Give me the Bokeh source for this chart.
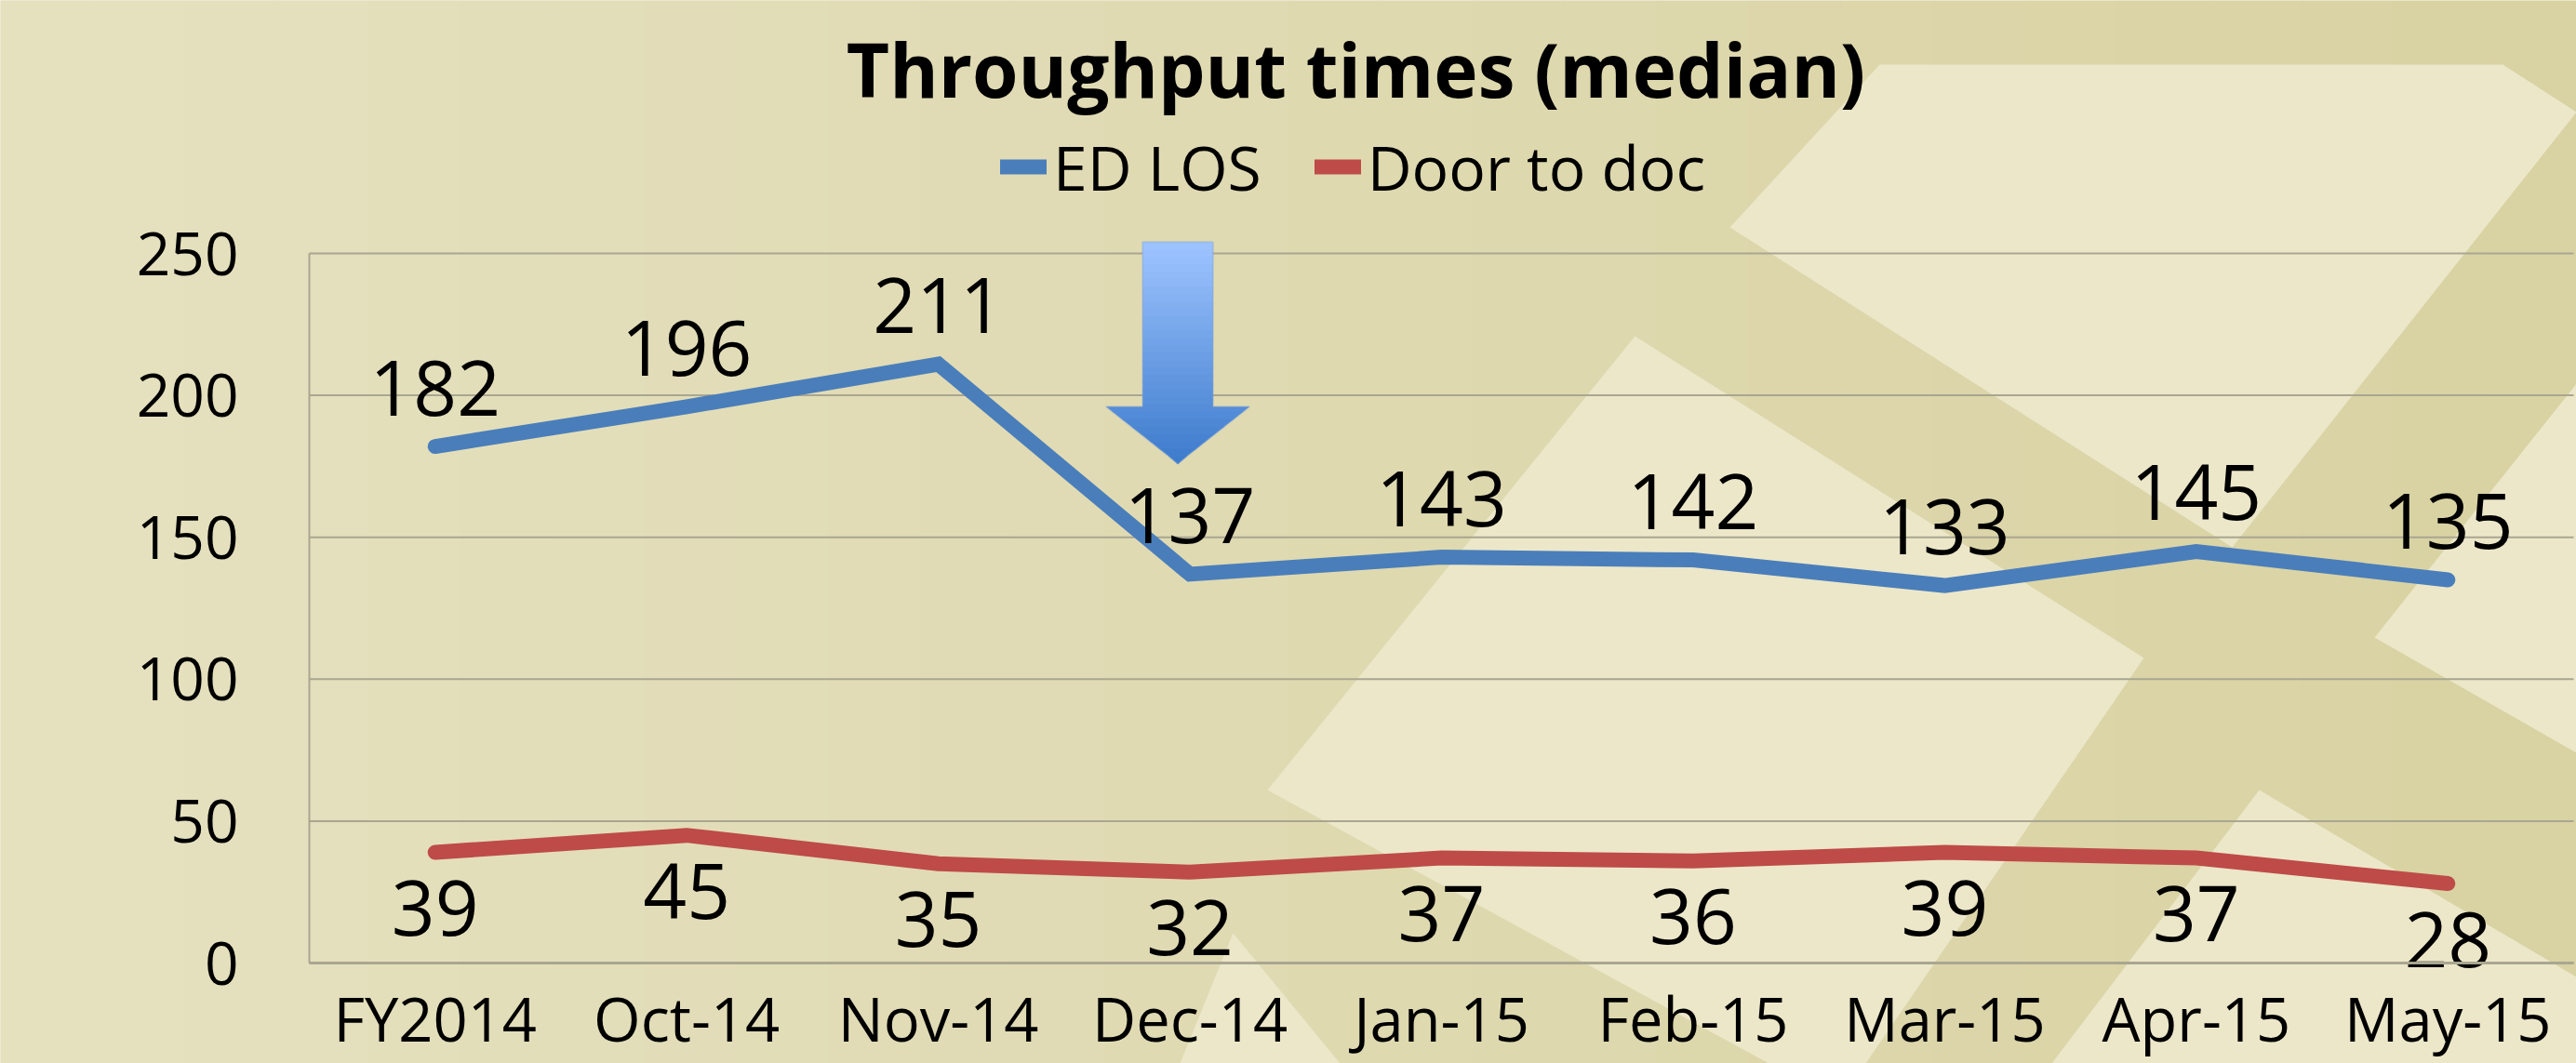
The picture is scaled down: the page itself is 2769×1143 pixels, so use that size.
from bokeh.plotting import figure
from bokeh.models import (Range1d, FixedTicker, PolyAnnotation, Label, Legend, LegendItem)
from bokeh.core.properties import value
from bokeh.embed import file_html
from bokeh.resources import INLINE

# ---------------- data ----------------
categories = ["FY2014", "Oct-14", "Nov-14", "Dec-14", "Jan-15",
              "Feb-15", "Mar-15", "Apr-15", "May-15"]
ed_los = [182, 196, 211, 137, 143, 142, 133, 145, 135]
door_to_doc = [39, 45, 35, 32, 37, 36, 39, 37, 28]
y_ticks = [0, 50, 100, 150, 200, 250]
series_names = ["ED LOS", "Door to doc"]
title_text = "Throughput times (median)"

# ---------------- layout ----------------
W, H = 2769, 1143
PX_LEFT, PX_RIGHT = 332, 2766      # plot area in canvas px
PX_Y0, PX_Y250 = 1035, 272
FONT = "Open Sans"
BLUE, RED = "#4a7ebb", "#be4b48"
GRID = "#a9a691"

ncat = len(categories)
cat_w = (PX_RIGHT - PX_LEFT) / ncat
ppu = (PX_Y0 - PX_Y250) / (y_ticks[-1] - y_ticks[0])
x_range = Range1d(-PX_LEFT / cat_w, ncat + (W - PX_RIGHT) / cat_w)
y_range = Range1d(-(H - PX_Y0) / ppu, y_ticks[-1] + PX_Y250 / ppu)
xpos = [i + 0.5 for i in range(ncat)]

p = figure(width=W, height=H, x_range=x_range, y_range=y_range, title=None,
           output_backend="svg", toolbar_location=None,
           min_border=0, min_border_left=0, min_border_right=0,
           min_border_top=0, min_border_bottom=0,
           outline_line_color=None, border_fill_color="#dfd9b0",
           background_fill_color="#dfd9b0")


def mix(c1, c2, t):
    return "#%02x%02x%02x" % tuple(int(round(a + (b - a) * t)) for a, b in zip(c1, c2))


# background gradient (decoration, canvas px)
N = 28
for i in range(N):
    x0 = W * i / N
    x1 = W * (i + 1) / N + 1
    p.add_layout(PolyAnnotation(xs=[x0, x1, x1, x0], ys=[0, 0, H, H],
                                xs_units="canvas", ys_units="canvas",
                                fill_color=mix((0xe5, 0xe1, 0xbf), (0xd9, 0xd2, 0xa3), i / (N - 1)),
                                fill_alpha=1, line_alpha=0, level="image"))

# light decorative shapes (canvas px)
light_shapes = [
    [(2020, 69), (2690, 69), (2769, 120), (2399, 588), (1859, 244)],
    [(1757, 361), (2304, 707), (2005, 1143), (1901, 1143), (1362, 849)],
    [(2428, 849), (2769, 1050), (2769, 1143), (2205, 1143)],
    [(2552, 685), (2769, 412), (2769, 809)],
    [(1268, 1143), (1325, 1003), (1440, 1143)],
]
for shp in light_shapes:
    p.add_layout(PolyAnnotation(xs=[a for a, b in shp], ys=[b for a, b in shp],
                                xs_units="canvas", ys_units="canvas",
                                fill_color="#ece7c9", fill_alpha=1, line_alpha=0,
                                level="image"))

# ---------------- grid / axes ----------------
p.xgrid.grid_line_color = None
p.ygrid.grid_line_color = None
p.segment(x0=[0] * len(y_ticks), x1=[ncat] * len(y_ticks), y0=y_ticks, y1=y_ticks,
          line_color=GRID, line_width=2, level="underlay")

p.yaxis.fixed_location = 0
p.yaxis.bounds = (y_ticks[0], y_ticks[-1])
p.yaxis.ticker = FixedTicker(ticks=y_ticks)
p.yaxis.axis_line_color = GRID
p.yaxis.axis_line_width = 2
p.yaxis.major_tick_line_color = None
p.yaxis.minor_tick_line_color = None
p.yaxis.major_label_standoff = 70
p.yaxis.major_label_text_font = FONT
p.yaxis.major_label_text_font_size = "64px"
p.yaxis.major_label_text_color = "black"

p.xaxis.fixed_location = 0
p.xaxis.bounds = (0, ncat)
p.xaxis.ticker = FixedTicker(ticks=xpos)
p.xaxis.major_label_overrides = {x: c for x, c in zip(xpos, categories)}
p.xaxis.axis_line_color = GRID
p.xaxis.axis_line_width = 3
p.xaxis.major_tick_line_color = None
p.xaxis.minor_tick_line_color = None
p.xaxis.major_label_standoff = 9
p.xaxis.major_label_text_font = FONT
p.xaxis.major_label_text_font_size = "65px"
p.xaxis.major_label_text_color = "black"

# ---------------- arrow annotation (gradient) ----------------
cx = categories.index("Dec-14") + 0.5 - 0.048
a_top, a_mid, a_tip = 254, 196, 176
shaft_h, head_h = 0.14, 0.285


def half(y):
    if y >= a_mid:
        return shaft_h
    return head_h * max(y - a_tip, 0) / (a_mid - a_tip)


NS = 30
for k in range(NS):
    y1 = a_top - (a_top - a_tip) * k / NS
    y0 = a_top - (a_top - a_tip) * (k + 1) / NS - 0.3
    if y0 < a_mid < y1:
        xs = [cx - shaft_h, cx + shaft_h, cx + shaft_h, cx + head_h, cx + half(y0),
              cx - half(y0), cx - head_h, cx - shaft_h]
        ys = [y1, y1, a_mid, a_mid, y0, y0, a_mid, a_mid]
    else:
        xs = [cx - half(y1), cx + half(y1), cx + half(y0), cx - half(y0)]
        ys = [y1, y1, y0, y0]
    p.add_layout(PolyAnnotation(xs=xs, ys=ys,
                                fill_color=mix((0x9d, 0xc3, 0xff), (0x3e, 0x7c, 0xcc), k / (NS - 1)),
                                fill_alpha=1, line_alpha=0))
p.add_layout(PolyAnnotation(
    xs=[cx - shaft_h, cx + shaft_h, cx + shaft_h, cx + head_h, cx, cx - head_h, cx - shaft_h],
    ys=[a_top, a_top, a_mid, a_mid, a_tip, a_mid, a_mid],
    fill_alpha=0, line_color="#6f9ad6", line_width=2))

# ---------------- series ----------------
r1 = p.line(xpos, ed_los, line_width=16, line_color=BLUE, line_cap="round", line_join="miter")
r2 = p.line(xpos, door_to_doc, line_width=16, line_color=RED, line_cap="round", line_join="miter")

p.text(x=xpos, y=ed_los, text=[str(v) for v in ed_los], text_font=value(FONT),
       text_font_size="82px", text_align="center", text_baseline="middle",
       y_offset=-63, text_color="black")
p.text(x=xpos, y=door_to_doc, text=[str(v) for v in door_to_doc], text_font=value(FONT),
       text_font_size="82px", text_align="center", text_baseline="middle",
       y_offset=60, text_color="black")

legend = Legend(items=[LegendItem(label=series_names[0], renderers=[r1]),
                       LegendItem(label=series_names[1], renderers=[r2])],
                orientation="horizontal", location=(1075, H - 224), padding=0, margin=0,
                spacing=57, glyph_width=50, glyph_height=90, label_height=90,
                label_standoff=7, label_text_font=FONT, label_text_font_size="66px",
                label_text_color="black",
                background_fill_alpha=0, border_line_alpha=0)
p.add_layout(legend, "center")

p.add_layout(Label(x=1457, y=73, x_units="canvas", y_units="canvas", text=title_text,
                   text_font=FONT, text_font_style="bold", text_font_size="80px",
                   text_align="center", text_baseline="middle", text_color="black"))

open("out.html", "w").write(file_html(p, INLINE))
